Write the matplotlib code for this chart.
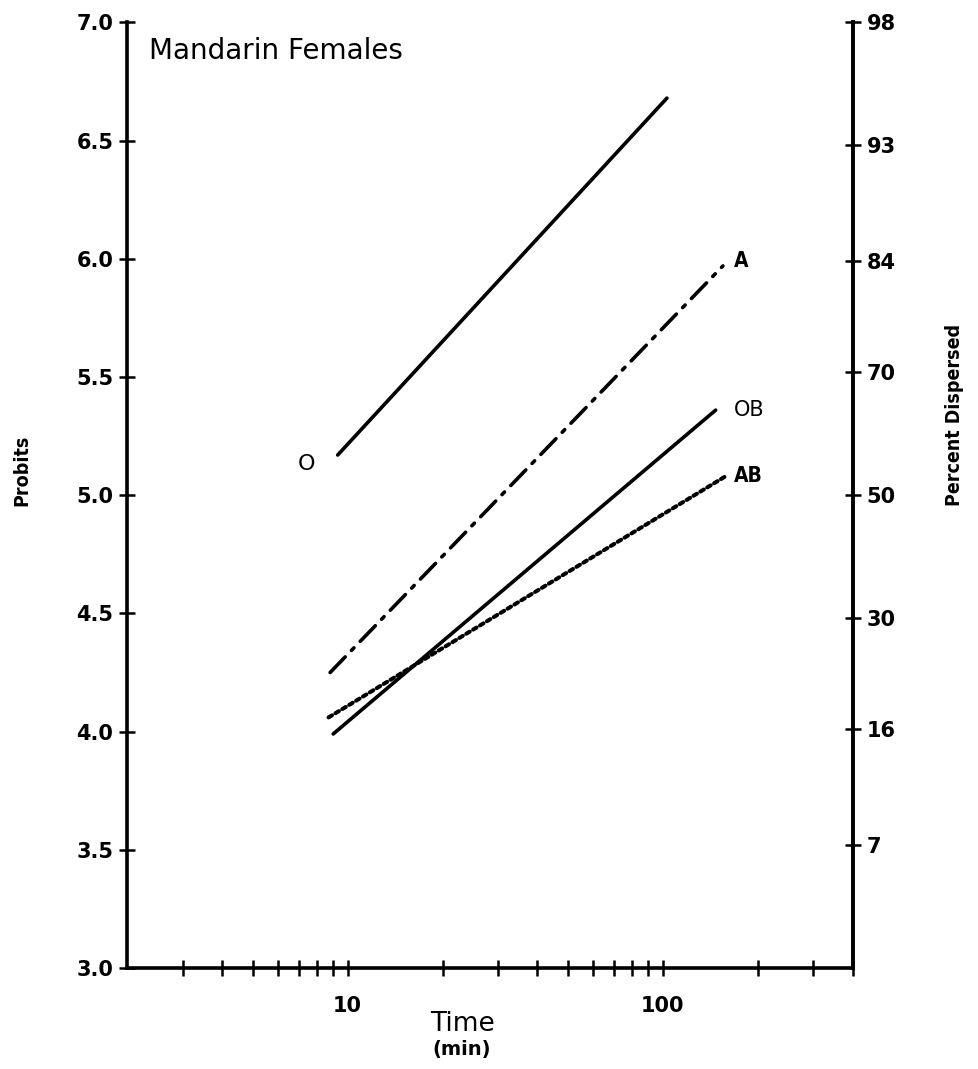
import matplotlib
matplotlib.use('Agg')
from matplotlib import pyplot as plt
from matplotlib.ticker import FixedLocator, NullFormatter
import numpy as np

# line end points (time in min, probits)
x_O = [9.3, 103]
y_O = [5.17, 6.68]
x_A = [8.8, 155]
y_A = [4.25, 5.97]
x_OB = [9.0, 147]
y_OB = [3.99, 5.36]
x_AB = [8.7, 158]
y_AB = [4.06, 5.08]

# text labels beside lines
label_txt = ['O', 'A', 'OB', 'AB']
label_x = [7.4, 168, 168, 168]
label_y = [5.13, 5.99, 5.36, 5.08]

# axes ticks
x_major = [10, 100]
x_minor = [3, 4, 5, 6, 7, 8, 9, 20, 30, 40, 50, 60, 70, 80, 90, 200, 300, 400]
y_ticks = [3.0, 3.5, 4.0, 4.5, 5.0, 5.5, 6.0, 6.5, 7.0]
pct_labels = ['7', '16', '30', '50', '70', '84', '93', '98']
pct_probits = [3.52, 4.01, 4.48, 5.0, 5.52, 5.99, 6.48, 7.0]

plt.rcParams['font.family'] = ['DejaVu Sans']

fig = plt.figure(figsize=(9.79, 10.69), dpi=100)
ax = fig.add_axes([0.130, 0.0945, 0.741, 0.8845])

lw = 2.6
ax.plot(x_O, y_O, color='black', lw=lw, solid_capstyle='round')
ax.plot(x_A, y_A, color='black', lw=lw, linestyle=(0, (6, 2.5, 1, 2.5)), dash_capstyle='round')
ax.plot(x_OB, y_OB, color='black', lw=lw, solid_capstyle='round')
ax.plot(x_AB, y_AB, color='black', lw=2.9, linestyle=(0, (1, 1.0)), dash_capstyle='round')

for t, lx, ly in zip(label_txt, label_x, label_y):
    if t == 'O':
        ax.text(lx, ly, t, fontsize=16, ha='center', va='center')
    elif t == 'OB':
        ax.text(lx, ly, t, fontsize=15, ha='left', va='center')
    else:
        ax.text(lx, ly, t, fontsize=15, ha='left', va='center',
                fontweight='bold', fontstretch='condensed')

ax.set_xscale('log')
ax.set_xlim(2, 400)
ax.set_ylim(3, 7)

ax.xaxis.set_major_locator(FixedLocator(x_major))
ax.xaxis.set_minor_locator(FixedLocator(x_minor))
ax.xaxis.set_minor_formatter(NullFormatter())
ax.set_xticklabels([str(v) for v in x_major], fontsize=15, fontweight='bold')
ax.set_yticks(y_ticks)
ax.set_yticklabels(['%.1f' % v for v in y_ticks], fontsize=15, fontweight='bold')

ax.tick_params(axis='both', which='both', direction='inout', length=12, width=1.8)
ax.tick_params(axis='x', which='both', top=False, pad=14)
ax.tick_params(axis='y', which='both', right=False, pad=4)

for s in ['top']:
    ax.spines[s].set_visible(False)
for s in ['left', 'bottom', 'right']:
    ax.spines[s].set_linewidth(2.6)

ax2 = ax.twinx()
ax2.set_ylim(3, 7)
ax2.set_yticks(pct_probits)
ax2.set_yticklabels(pct_labels, fontsize=15, fontweight='bold')
ax2.tick_params(axis='y', direction='inout', length=12, width=1.8, pad=4)
ax2.spines['top'].set_visible(False)
ax2.spines['right'].set_linewidth(2.6)

ax.text(0.03, 0.985, 'Mandarin Females', transform=ax.transAxes, fontsize=20,
        ha='left', va='top')

fig.text(0.022, 0.56, 'Probits', rotation=90, fontsize=14, fontweight='bold',
         ha='center', va='center', fontstretch='condensed')
fig.text(0.975, 0.612, 'Percent Dispersed', rotation=90, fontsize=14, fontweight='bold',
         ha='center', va='center', fontstretch='condensed')
fig.text(0.472, 0.042, 'Time', fontsize=19, ha='center', va='center')
fig.text(0.472, 0.018, '(min)', fontsize=14, ha='center', va='center', fontweight='bold')

fig.savefig('out.png', dpi=100)
